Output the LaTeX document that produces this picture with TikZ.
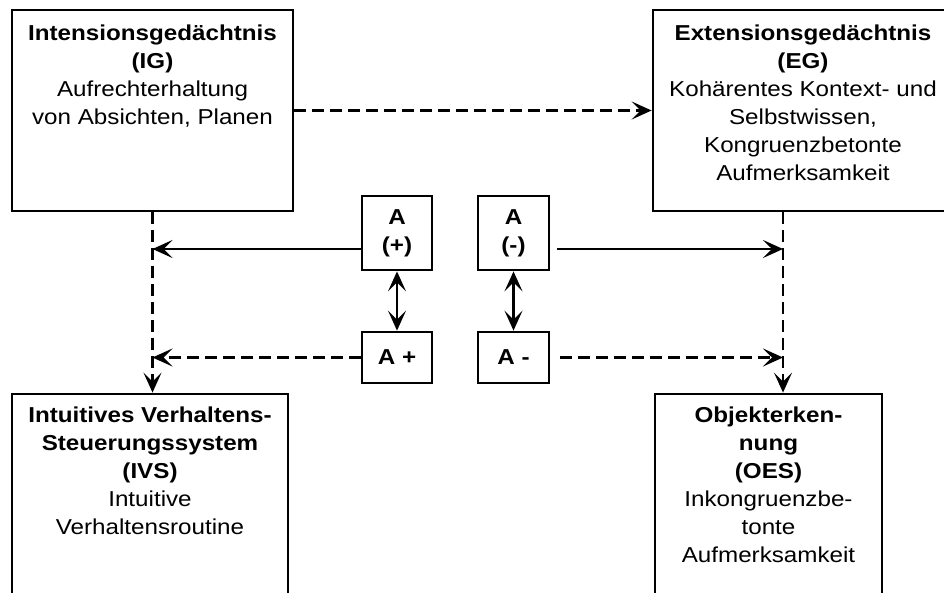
\documentclass[tikz,border=0pt]{standalone}
\usepackage{fontspec}
\setmainfont[FakeStretch=1.12]{Liberation Sans}
\usetikzlibrary{arrows.meta}
\begin{document}
\begin{tikzpicture}[x=1pt,y=-1pt,
  box/.style={draw, line width=2.8pt, fill=white, inner sep=0pt},
  txt/.style={align=center, inner sep=0pt, font=\fontsize{21.6}{28}\selectfont},
  btxt/.style={align=center, inner sep=0pt, font=\fontsize{21.6}{28}\selectfont\bfseries},
  >={Stealth[length=20pt,width=18pt,inset=9pt]},
  sol/.style={line width=2.4pt, ->},
  dsh/.style={line width=2.4pt, dash pattern=on 12pt off 6pt, ->}]
\useasboundingbox (0,0) rectangle (944,593);
\clip (0,0) rectangle (944,593);
\fill[white] (0,0) rectangle (944,593);

% big boxes
\node[box, minimum width=281pt, minimum height=201pt] (IG) at (152.5,110.5) {};
\node[box, minimum width=300pt, minimum height=201pt] (EG) at (803,110.5) {};
\node[box, minimum width=276pt, minimum height=210pt] (IVS) at (150,499) {};
\node[box, minimum width=227pt, minimum height=210pt] (OES) at (768.5,499) {};

% big box texts
\node[txt, anchor=north] (IGt) at (152.5,25) {\textbf{Intensionsgedächtnis}\\\textbf{(IG)}\\Aufrechterhaltung\\von Absichten, Planen};
\node[txt, anchor=north] (EGt) at (803,25) {\textbf{Extensionsgedächtnis}\\\textbf{(EG)}\\Kohärentes Kontext- und\\Selbstwissen,\\Kongruenzbetonte\\Aufmerksamkeit};
\node[txt, anchor=north] (IVSt) at (150,407) {\textbf{Intuitives Verhaltens-}\\\textbf{Steuerungssystem}\\\textbf{(IVS)}\\Intuitive\\Verhaltensroutine};
\node[txt, anchor=north] (OESt) at (768.5,407) {\textbf{Objekterken-}\\\textbf{nung}\\\textbf{(OES)}\\Inkongruenzbe-\\tonte\\Aufmerksamkeit};

% small boxes
\node[box, btxt, minimum width=70pt, minimum height=74pt] (Ap) at (397,233) {A\\(+)};
\node[box, btxt, minimum width=71pt, minimum height=74pt] (Am) at (513.5,233) {A\\(-)};
\node[box, btxt, minimum width=70pt, minimum height=51pt] (Apl) at (397,357.5) {A +};
\node[box, btxt, minimum width=71pt, minimum height=51pt] (Aml) at (513.5,357.5) {A -};

\coordinate (rx) at (783,0);
\coordinate (rowA) at (0,249);

% connectors
\draw[dsh] (IG.east) -- (EG.west);
\draw[dsh] (IG.south) -- (IG.south |- IVS.north);
\draw[dsh] (EG.south -| rx) -- (OES.north -| rx);
\draw[sol] (Ap.west |- rowA) -- (IG.south |- rowA);
\draw[sol] ([xshift=7pt]Am.east |- rowA) -- (rx |- rowA);
\draw[dsh] (Apl.west) -- (IG.south |- Apl.west);
\draw[dsh] ([xshift=10pt]Aml.east) -- (rx |- Aml.east);
\draw[sol,<->] (Ap) -- (Apl);
\draw[sol,<->] (Am) -- (Aml);
\end{tikzpicture}
\end{document}
